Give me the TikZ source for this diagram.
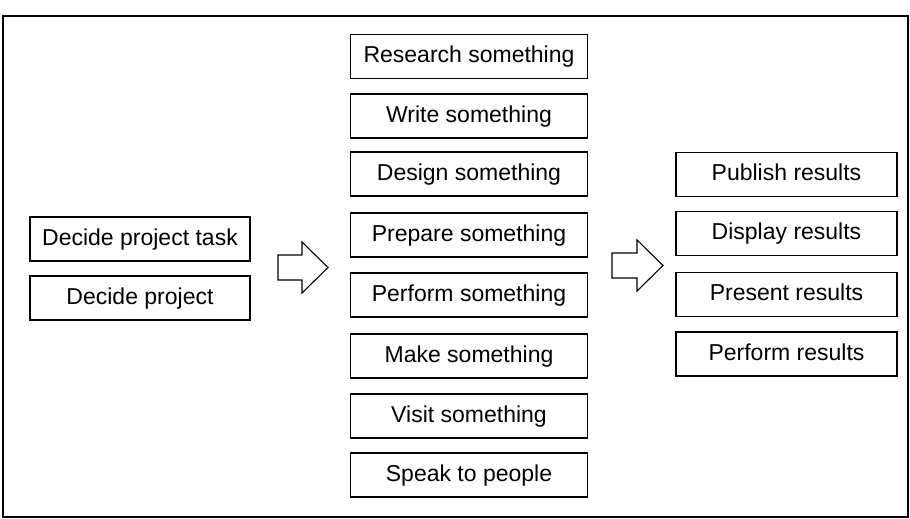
\documentclass[tikz,border=0pt]{standalone}
\usepackage{fontspec}
\setmainfont{Liberation Sans}
\begin{document}
\begin{tikzpicture}[x=1pt,y=-1pt,
  box/.style={draw, line width=1.1pt, inner sep=0pt, minimum height=44pt, text height=16.5pt, text depth=4pt, font=\fontsize{23}{26}\selectfont},
  midbox/.style={box, minimum width=237pt},
  leftbox/.style={box, minimum width=220pt},
  rightbox/.style={box, minimum width=221pt},
  blockarrow/.style={draw, line width=1.1pt, line join=miter, fill=white}]
\useasboundingbox (0,0) rectangle (910,519);
\draw[line width=1.4pt] (3,16) rectangle (908,517);
% left
\node[leftbox] (dpt) at (140,239) {Decide project task};
\node[leftbox] (dp) at (140,298) {Decide project};
% middle
\node[midbox] (m1) at (469,56.5) {Research something};
\node[midbox] (m2) at (469,116) {Write something};
\node[midbox] (m3) at (469,174) {Design something};
\node[midbox] (m4) at (469,235) {Prepare something};
\node[midbox] (m5) at (469,295) {Perform something};
\node[midbox] (m6) at (469,356) {Make something};
\node[midbox] (m7) at (469,416) {Visit something};
\node[midbox] (m8) at (469,475) {Speak to people};
% right
\node[rightbox] (r1) at (786.5,174.5) {Publish results};
\node[rightbox] (r2) at (786.5,233.5) {Display results};
\node[rightbox] (r3) at (786.5,294.5) {Present results};
\node[rightbox] (r4) at (786.5,354) {Perform results};
% block arrows
\draw[blockarrow] (278,255) -- (302,255) -- (302,242) -- (328,267.5) -- (302,293) -- (302,280) -- (278,280) -- cycle;
\draw[blockarrow] (612,253) -- (637,253) -- (637,240) -- (663,265.5) -- (637,291) -- (637,278) -- (612,278) -- cycle;
\end{tikzpicture}
\end{document}
